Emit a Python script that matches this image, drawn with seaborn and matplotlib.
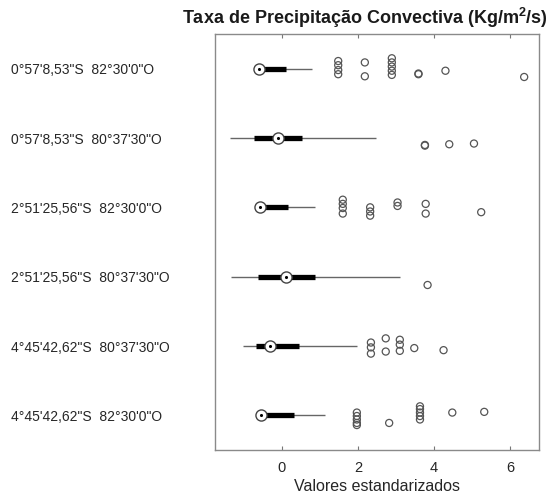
import matplotlib
matplotlib.use("Agg")
import matplotlib.pyplot as plt
import pandas as pd
import seaborn as sns

# Stations (top to bottom)
stations = [
    "0°57'8,53\"S  82°30'0\"O",
    "0°57'8,53\"S  80°37'30\"O",
    "2°51'25,56\"S  82°30'0\"O",
    "2°51'25,56\"S  80°37'30\"O",
    "4°45'42,62\"S  80°37'30\"O",
    "4°45'42,62\"S  82°30'0\"O",
]

# Box statistics (standardized values)
whisker_low = [-0.63, -1.37, -0.60, -1.35, -1.03, -0.57]
q1 = [-0.61, -0.73, -0.58, -0.62, -0.68, -0.55]
median = [-0.61, -0.10, -0.58, 0.12, -0.32, -0.55]
q3 = [0.10, 0.54, 0.17, 0.87, 0.46, 0.32]
whisker_high = [0.78, 2.47, 0.87, 3.10, 1.97, 1.13]

# Outlier values per station
outliers = [
    [1.48, 1.48, 1.48, 1.48, 2.18, 2.18, 2.89, 2.89, 2.89, 2.89, 2.89, 3.59, 3.59, 4.30, 6.37],
    [3.76, 3.76, 4.40, 5.05],
    [1.60, 1.60, 1.60, 1.60, 2.32, 2.32, 2.32, 3.04, 3.04, 3.78, 3.78, 5.24],
    [3.83],
    [2.34, 2.34, 2.34, 2.73, 2.73, 3.10, 3.10, 3.10, 3.48, 4.25],
    [1.97, 1.97, 1.97, 1.97, 1.97, 2.82, 3.63, 3.63, 3.63, 3.63, 3.63, 4.48, 5.32],
]
# vertical jitter of each outlier marker (in row units)
jitter = [
    [-0.11, -0.05, 0.02, 0.08, -0.09, 0.11, -0.15, -0.09, -0.03, 0.03, 0.09, 0.07, 0.08, 0.03, 0.12],
    [0.10, 0.11, 0.09, 0.08],
    [-0.11, -0.05, 0.01, 0.09, 0.00, 0.06, 0.12, -0.07, -0.02, -0.05, 0.09, 0.07],
    [0.12],
    [-0.05, 0.02, 0.11, -0.11, 0.08, -0.09, -0.02, 0.07, 0.03, 0.06],
    [-0.04, 0.01, 0.06, 0.11, 0.14, 0.11, -0.13, -0.09, -0.04, 0.01, 0.06, -0.04, -0.05],
]

xticks = [0, 2, 4, 6]

sns.set_theme(style="white")
plt.rcParams["font.family"] = ["Liberation Sans", "DejaVu Sans"]
plt.rcParams["mathtext.fontset"] = "custom"
plt.rcParams["mathtext.rm"] = "Liberation Sans"
plt.rcParams["mathtext.bf"] = "Liberation Sans:bold"

W, H = 559, 504
fig = plt.figure(figsize=(W / 100, H / 100), dpi=100)
ax = fig.add_axes([215 / W, (H - 450) / H, (539 - 215) / W, (450 - 34) / H])

rows = list(range(1, len(stations) + 1))

# whiskers (thin) and boxes (thick)
ax.hlines(rows, whisker_low, whisker_high, color="#666666", lw=1.0, zorder=2)
ax.hlines(rows, q1, q3, color="black", lw=3.8, zorder=3)

# outliers
out_df = pd.DataFrame(
    [(v, r + j) for r, vals, jit in zip(rows, outliers, jitter) for v, j in zip(vals, jit)],
    columns=["valor", "pos"],
)
sns.scatterplot(data=out_df, x="valor", y="pos", ax=ax, marker="o", s=26,
                facecolor="none", edgecolor="#555555", linewidth=0.9, zorder=4, legend=False)

# medians: ring with a central dot
med_df = pd.DataFrame({"valor": median, "pos": rows})
sns.scatterplot(data=med_df, x="valor", y="pos", ax=ax, marker="o", s=64,
                facecolor="white", edgecolor="#444444", linewidth=1.0, zorder=5, legend=False)
sns.scatterplot(data=med_df, x="valor", y="pos", ax=ax, marker="o", s=5,
                color="black", linewidth=0, zorder=6, legend=False)

ax.set_xlim(-1.76, 6.76)
ax.set_ylim(6.5, 0.5)
ax.set_xticks(xticks)
ax.set_xticklabels([str(t) for t in xticks])
ax.set_yticks(rows)
ax.set_yticklabels(stations, ha="left", fontsize=10, color="#262626")
ax.tick_params(axis="y", length=0, pad=147)
ax.tick_params(axis="x", direction="in", top=True, bottom=True, length=3,
               width=0.8, color="#777777", labelsize=10.5, labelcolor="#262626", pad=8)
for sp in ax.spines.values():
    sp.set_color("#8a8a8a")
    sp.set_linewidth(1.0)
ax.set_xlabel("Valores estandarizados", fontsize=11.5, color="#262626", labelpad=3)
ax.set_ylabel("")

fig.text(365 / W, 1 - 18 / H, r"Taxa de Precipitação Convectiva (Kg/m$^{\mathbf{2}}$/s)",
         ha="center", va="center", fontsize=13, fontweight="bold", color="#1a1a1a")

fig.savefig("out.png", dpi=100, facecolor="white")
